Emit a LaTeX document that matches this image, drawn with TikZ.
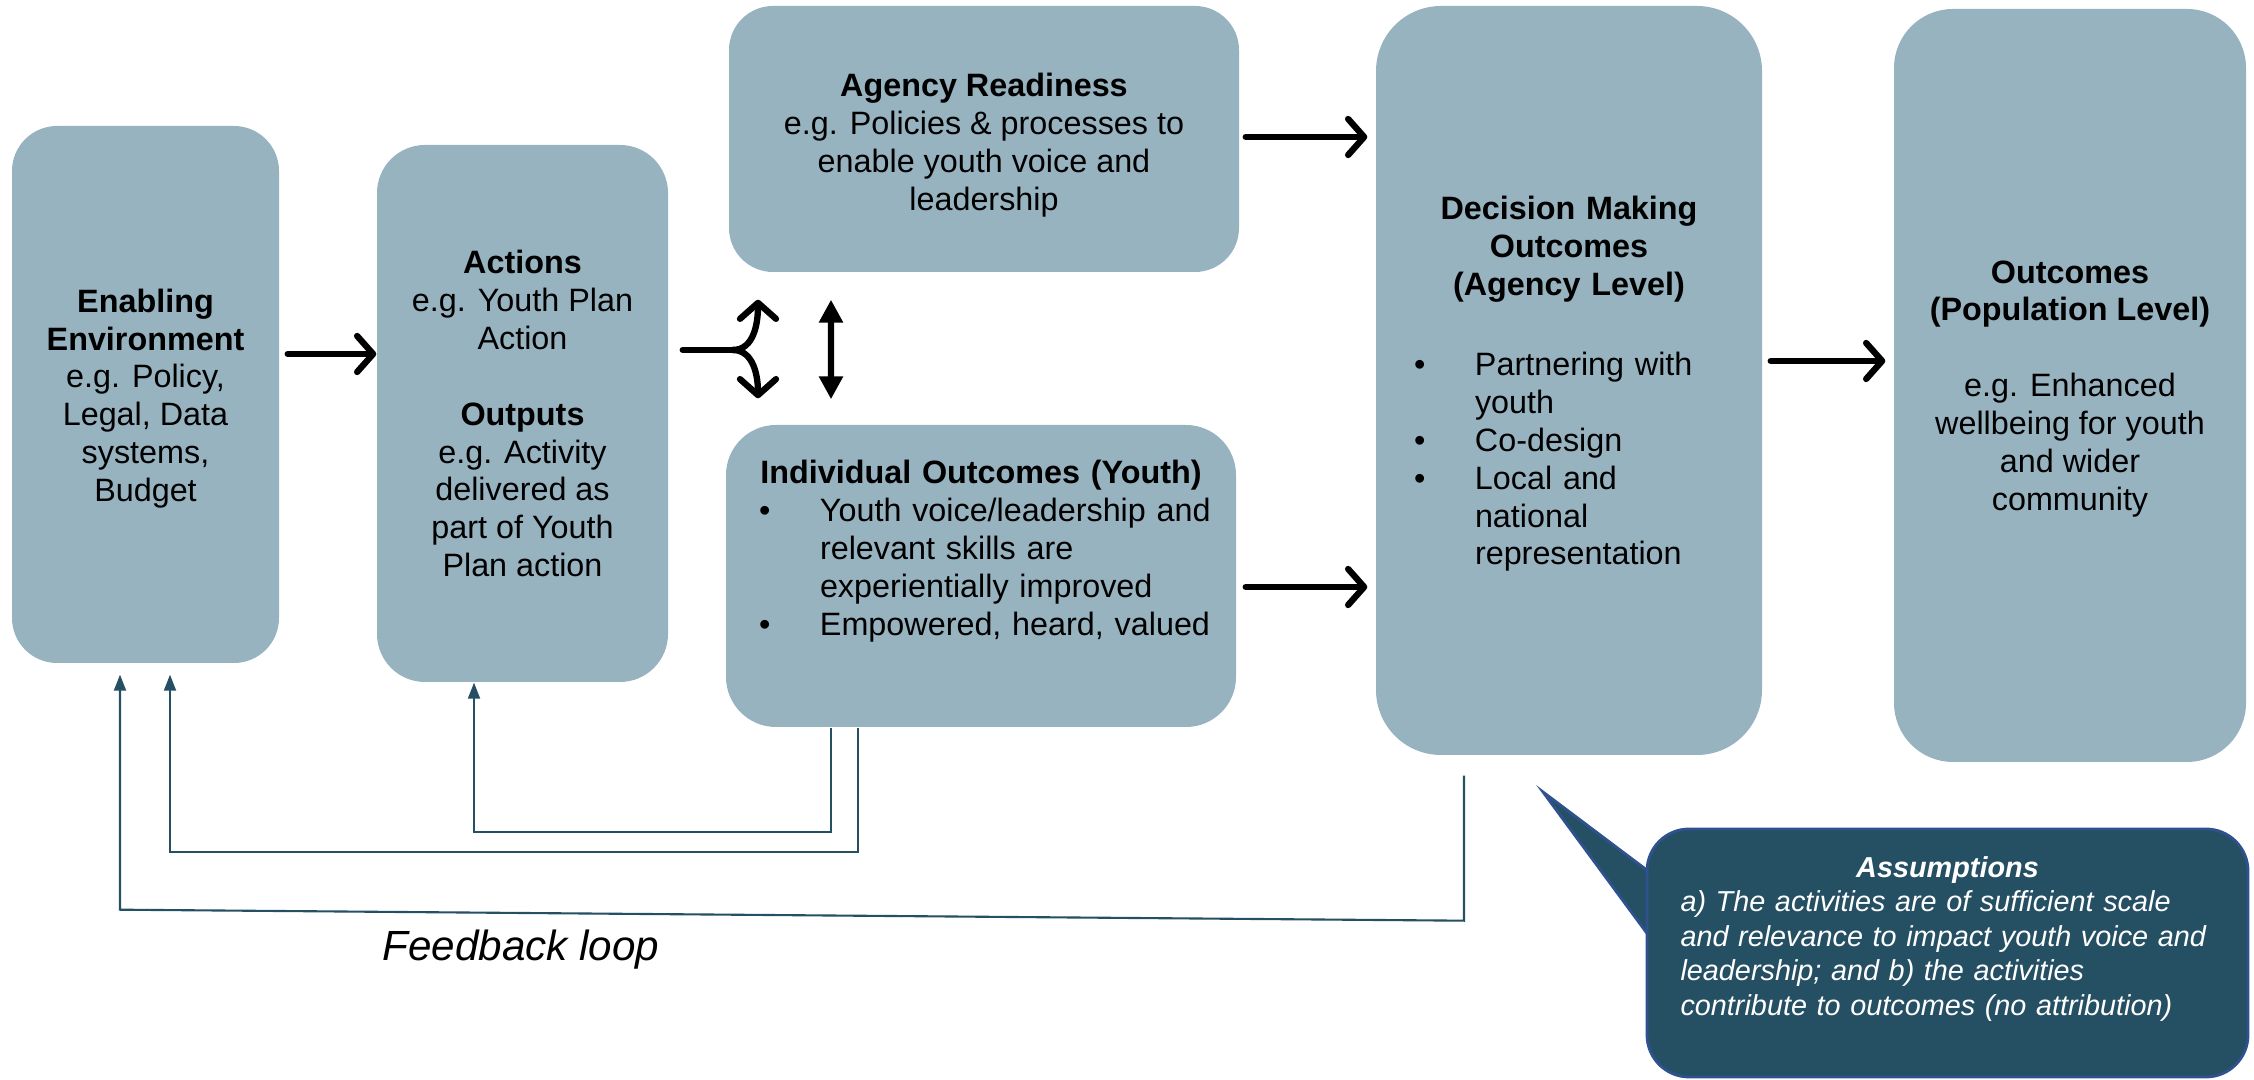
\documentclass[tikz,border=0pt]{standalone}
\usepackage{fontspec}
\setmainfont{Liberation Sans}
\usetikzlibrary{arrows.meta}

\definecolor{boxfill}{HTML}{97B3C0}
\definecolor{deepteal}{HTML}{254F63}
\definecolor{calloutline}{HTML}{2F528F}
% bullet item: left offset, text (lines after the first hang under the text)
\newcommand{\bitem}[2]{\par\noindent\hangindent=\dimexpr#1+6.1mm\relax\hangafter=1
  \hspace*{#1}\makebox[6.1mm][l]{\textbullet}#2\par}

\begin{document}
\begin{tikzpicture}[
    box/.style={fill=boxfill, inner sep=0pt, font=\fontsize{9.2}{10.8}\selectfont},
    bigarrow/.style={line width=1.8pt, line cap=round,
      -{Straight Barb[length=1.6mm,width=3.6mm,line cap=round,line join=round]}},
    twoway/.style={line width=1.8pt,
      {Triangle[length=2.3mm,width=2.3mm]}-{Triangle[length=2.3mm,width=2.3mm]}},
    fback/.style={draw=deepteal, line width=0.6pt, -{Triangle[length=1.6mm,width=1.2mm]}}]
  \useasboundingbox (0,0) rectangle (22.54,10.80);

  \node[box, rounded corners=4.5mm, minimum width=2.67cm, minimum height=5.37cm, align=center]
    (env) at (1.455,6.855) {\rule{0pt}{9pt}\textbf{Enabling}\\\textbf{Environment}\\e.g. Policy,\\Legal, Data\\systems,\\Budget};
  \node[box, rounded corners=4.8mm, minimum width=2.91cm, minimum height=5.37cm, align=center]
    (act) at (5.225,6.665) {\textbf{Actions}\\e.g. Youth Plan\\Action\\[10.8pt]\textbf{Outputs}\\e.g. Activity\\delivered as\\part of Youth\\Plan action};
  \node[box, rounded corners=4.4mm, minimum width=5.10cm, minimum height=2.66cm, align=center]
    (agency) at (9.84,9.41) {\rule{0pt}{10pt}\textbf{Agency Readiness}\\e.g. Policies \& processes to\\enable youth voice and\\leadership};
  \node[box, rounded corners=5mm, minimum width=5.10cm, minimum height=3.02cm, text width=5.10cm]
    (indiv) at (9.81,5.04) {{\centering\textbf{Individual Outcomes (Youth)}\par}
      \bitem{3.3mm}{Youth voice/leadership and\newline relevant skills are\newline experientially improved}
      \bitem{3.3mm}{Empowered, heard, valued}
      \noindent\rule{0pt}{4.6mm}};
  \node[box, rounded corners=6.5mm, minimum width=3.86cm, minimum height=7.49cm, text width=3.86cm]
    (dec) at (15.69,6.995) {{\centering\rule{0pt}{8.5pt}\textbf{Decision Making}\\\textbf{Outcomes}\\\textbf{(Agency Level)}\par}
      \vspace{12pt}
      \bitem{3.8mm}{Partnering with\newline youth}
      \bitem{3.8mm}{Co-design}
      \bitem{3.8mm}{Local and\newline national\newline representation}};
  \node[box, rounded corners=5.9mm, minimum width=3.52cm, minimum height=7.53cm, align=center]
    (outc) at (20.70,6.945) {\rule{0pt}{8.4pt}\textbf{Outcomes}\\\textbf{(Population Level)}\\[10.8pt]e.g. Enhanced\\wellbeing for youth\\and wider\\community};

  \draw[bigarrow] ([shift={(0.8mm,4.05mm)}]env.east) -- ([yshift=4.05mm]env.east -| act.west);
  \draw[bigarrow] ([shift={(0.6mm,0.2mm)}]agency.east) -- ([shift={(-0.8mm,0.2mm)}]agency.east -| dec.west);
  \draw[bigarrow] ([shift={(0.9mm,-1.1mm)}]indiv.east) -- ([shift={(-0.8mm,-1.1mm)}]indiv.east -| dec.west);
  \draw[bigarrow] ([shift={(0.8mm,1.95mm)}]dec.east) -- ([shift={(-0.8mm,1.95mm)}]dec.east -| outc.west);

  % the fork out of the actions
  \coordinate (fork) at ([shift={(6.4mm,6.35mm)}]act.east);
  \coordinate (forkup) at ([shift={(-22.6mm,-2.7mm)}]agency.south);
  \coordinate (forkdown) at ([shift={(-22.3mm,2.6mm)}]indiv.north);
  \draw[line width=1.8pt, line cap=round] ([shift={(1.4mm,6.35mm)}]act.east) -- (fork);
  \draw[bigarrow] (fork) to[out=0,in=-90] (forkup);
  \draw[bigarrow] (fork) to[out=0,in=90] (forkdown);
  \draw[twoway] ([shift={(-15.3mm,-2.7mm)}]agency.south) -- ([shift={(-15.0mm,2.5mm)}]indiv.north);

  % feedback
  \draw[fback] ([xshift=-15mm]indiv.south) -- ++(0,-1.04) -| ([xshift=-4.85mm]act.south);
  \draw[fback] ([xshift=-12.3mm]indiv.south) -- ++(0,-1.24) -| ([shift={(2.45mm,-1.1mm)}]env.south);
  \coordinate (fbstart) at ([shift={(-10.5mm,-2mm)}]dec.south);
  \draw[fback] (fbstart) -- ++(0,-1.45) -- ([shift={(-2.55mm,-24.6mm)}]env.south)
    -- ([shift={(-2.55mm,-1.1mm)}]env.south);
  \node[font=\fontsize{12}{14}\selectfont\itshape] (fbloop) at (5.21,1.30) {Feedback loop};

  % assumptions
  \fill[deepteal, draw=calloutline, line width=0.8pt] (15.43,2.88) -- (16.60,2.0) -- (16.60,1.29) -- cycle;
  \node[fill=deepteal, draw=calloutline, line width=0.8pt, rounded corners=4.2mm,
    minimum width=6.01cm, minimum height=2.48cm, text width=5.34cm, align=left, inner sep=0pt,
    text=white, font=\fontsize{8.2}{9.8}\selectfont\itshape]
    (assume) at (19.475,1.27) {{\centering\textbf{Assumptions}\par}
      a) The activities are of sufficient scale\\\mbox{and relevance to impact youth voice and}\\leadership; and b) the activities\\contribute to outcomes (no attribution)\par
      \noindent\rule{0pt}{1.6mm}};
\end{tikzpicture}
\end{document}
